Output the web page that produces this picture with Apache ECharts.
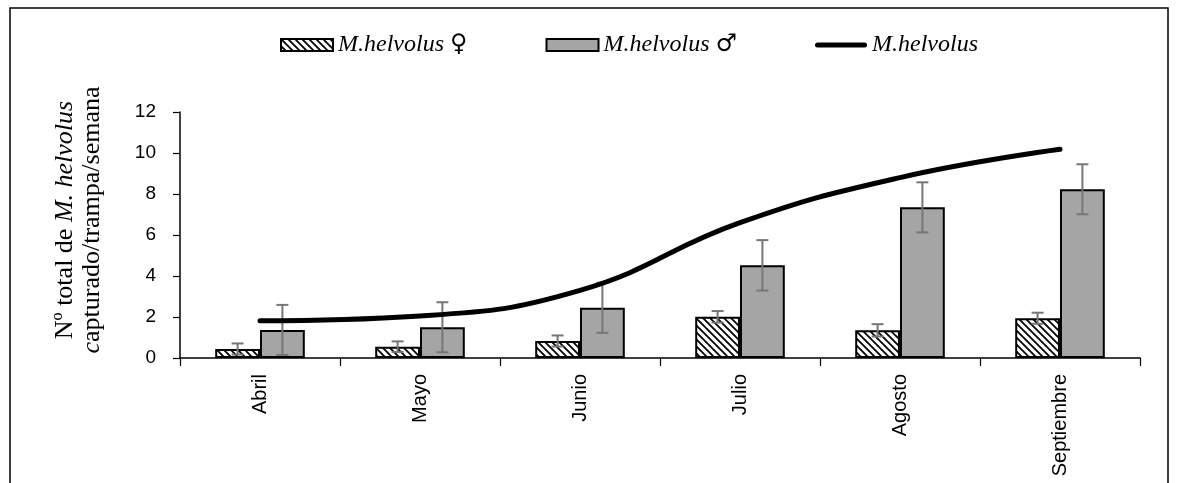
<!DOCTYPE html>
<html>
<head>
<meta charset="utf-8">
<script src="https://cdn.jsdelivr.net/npm/echarts@6/dist/echarts.min.js"></script>
<style>html,body{margin:0;padding:0;background:#fff;}#c{width:1179px;height:483px;}</style>
</head>
<body>
<div id="c"></div>
<script>
const categories = ['Abril', 'Mayo', 'Junio', 'Julio', 'Agosto', 'Septiembre'];
const femaleValues = [0.44, 0.55, 0.83, 2.01, 1.35, 1.94];
const femaleErrors = [0.27, 0.26, 0.27, 0.28, 0.30, 0.27];
const maleValues = [1.37, 1.50, 2.45, 4.52, 7.35, 8.23];
const maleErrors = [1.22, 1.22, 1.22, 1.23, 1.22, 1.22];
const totalValues = [1.82, 2.05, 3.30, 6.60, 8.80, 10.18];
const yTicks = [0, 2, 4, 6, 8, 10, 12];

const hatch = document.createElement('canvas');
hatch.width = 7; hatch.height = 7;
(function(){
  const g = hatch.getContext('2d');
  g.fillStyle = '#fff'; g.fillRect(0,0,7,7);
  g.strokeStyle = '#000'; g.lineWidth = 1.8;
  g.beginPath();
  g.moveTo(-1,-1); g.lineTo(8,8);
  g.moveTo(-1,6); g.lineTo(1,8);
  g.moveTo(6,-1); g.lineTo(8,1);
  g.stroke();
})();
const hatchPattern = {image: hatch, repeat: 'repeat'};

const BAR_FRAC = 0.28;
const errData = [];
femaleValues.forEach((v,i)=>errData.push([i, v, femaleErrors[i], -1]));
maleValues.forEach((v,i)=>errData.push([i, v, maleErrors[i], 1]));

const lineIcon = 'path://M0,0L52,0M0,12L52,12M2.5,3.5L49.5,3.5A2.5,2.5 0 0 1 49.5,8.5L2.5,8.5A2.5,2.5 0 0 1 2.5,3.5Z';

const chart = echarts.init(document.getElementById('c'));
chart.setOption({
  animation: false,
  backgroundColor: '#fff',
  grid: {left: 180, right: 39, top: 112, bottom: 125, containLabel: false},
  legend: {
    data: [
      {name: 'M.helvolus ♀', icon: 'rect'},
      {name: 'M.helvolus ♂', icon: 'rect'},
      {name: 'M.helvolus', icon: lineIcon, itemStyle: {color: '#000', borderWidth: 0}}
    ],
    left: 275, top: 28, itemWidth: 52, itemHeight: 12, itemGap: 78,
    formatter: n => n.replace(/([♀♂])/, '{s|$1}'),
    textStyle: {fontFamily: 'Liberation Serif', fontStyle: 'italic', fontSize: 24, color: '#000',
      rich: {s: {fontFamily: 'DejaVu Serif', fontStyle: 'normal', fontSize: 24, color: '#000'}}}
  },
  xAxis: {
    type: 'category', data: categories,
    axisLine: {lineStyle: {color: '#000', width: 1.5}},
    axisTick: {show: true, length: 8, lineStyle: {color: '#000', width: 1.2}},
    axisLabel: {rotate: 90, color: '#000', fontFamily: 'Liberation Sans', fontSize: 20, margin: 16}
  },
  yAxis: {
    type: 'value', min: 0, max: 12, interval: 2,
    splitLine: {show: false},
    axisLine: {show: true, lineStyle: {color: '#000', width: 1.5}},
    axisTick: {show: true, length: 7, lineStyle: {color: '#000', width: 1.2}},
    axisLabel: {color: '#000', fontFamily: 'Liberation Sans', fontSize: 19, margin: 24,
      formatter: v => yTicks.includes(v) ? String(v) : ''},
    name: '{a|Nº total de }{b|M. helvolus}\n{b|c}{a|apturado/trampa/semana}',
    nameLocation: 'middle', nameRotate: 90, nameGap: 74,
    nameTextStyle: {
      lineHeight: 27, padding: [0, 0, 0, 30],
      rich: {
        a: {fontFamily: 'Liberation Serif', fontSize: 26, color: '#000', lineHeight: 27},
        b: {fontFamily: 'Liberation Serif', fontSize: 26, fontStyle: 'italic', color: '#000', lineHeight: 27}
      }
    }
  },
  series: [
    {
      name: 'M.helvolus ♀', type: 'bar', data: femaleValues,
      barWidth: (BAR_FRAC*100) + '%', barGap: '0%',
      itemStyle: {color: hatchPattern, borderColor: '#000', borderWidth: 2},
      z: 2
    },
    {
      name: 'M.helvolus ♂', type: 'bar', data: maleValues,
      barWidth: (BAR_FRAC*100) + '%', barGap: '0%',
      itemStyle: {color: '#a5a5a5', borderColor: '#000', borderWidth: 2},
      z: 2
    },
    {
      type: 'custom', data: errData, z: 3, silent: true,
      renderItem: function(params, api) {
        const cat = api.value(0), m = api.value(1), e = api.value(2), side = api.value(3);
        const bw = api.size([1, 0])[0] * BAR_FRAC;
        const top = api.coord([cat, m + e]);
        const bot = api.coord([cat, Math.max(0, m - e)]);
        const x = top[0] + side * bw / 2;
        const cw = 6;
        const st = {stroke: '#767676', lineWidth: 2};
        return {type: 'group', children: [
          {type: 'line', shape: {x1: x, y1: top[1], x2: x, y2: bot[1]}, style: st},
          {type: 'line', shape: {x1: x - cw, y1: top[1], x2: x + cw, y2: top[1]}, style: st},
          {type: 'line', shape: {x1: x - cw, y1: bot[1], x2: x + cw, y2: bot[1]}, style: st}
        ]};
      }
    },
    {
      name: 'M.helvolus', type: 'line', data: totalValues, smooth: 0.45,
      symbol: 'none', lineStyle: {color: '#000', width: 5, cap: 'round'},
      itemStyle: {color: '#000'}, z: 5
    }
  ],
  graphic: [{
    type: 'rect', shape: {x: 10, y: 8, width: 1158, height: 500},
    style: {fill: 'none', stroke: '#000', lineWidth: 1.5}, z: 10
  }]
});
</script>
</body>
</html>
